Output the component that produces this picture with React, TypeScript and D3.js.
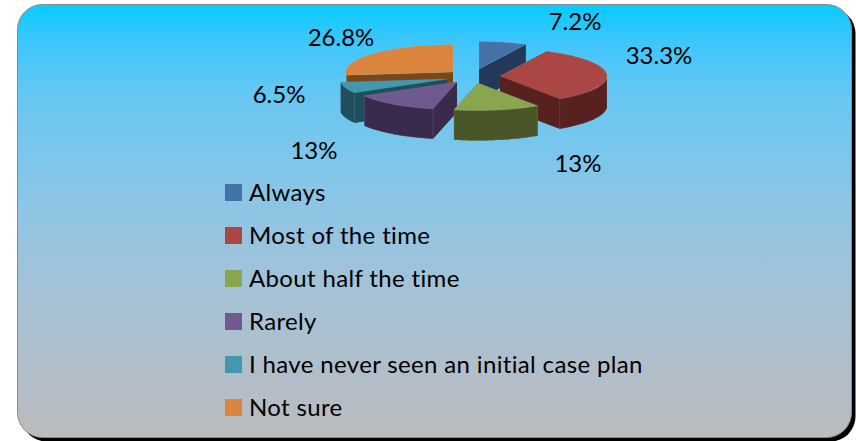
import React from "react";
import * as d3 from "d3";

const categories = ["Always", "Most of the time", "About half the time", "Rarely", "I have never seen an initial case plan", "Not sure"];
const values = [7.2, 33.3, 13, 13, 6.5, 26.8];
const valueLabels = ["7.2%", "33.3%", "13%", "13%", "6.5%", "26.8%"];
const topColors = ["#4572a7", "#aa4643", "#89a54e", "#71588f", "#4198af", "#db843d"];
const sideColors = ["#24395a", "#56211f", "#495628", "#3a2b4c", "#1f4f5c", "#7a4719"];

// layout
const W = 856, H = 441;
const RX = 107, RY = 27.5, DEPTH = 30;
const apexX = [479, 500, 478, 457, 447, 453];
const apexY = [69, 76, 83, 82, 79, 72];
const labelX = [575, 659, 578, 314, 279, 341];
const labelY = [20, 54, 162, 149, 93, 36];
const drawOrder = [0, 5, 4, 3, 1, 2];
const FONT = "Lato, Carlito, sans-serif";

const legendY = d3.scalePoint<number>().domain(d3.range(categories.length)).range([192, 407]);
const arcs = d3.pie<number>().sort(null)(values);

function pt(i: number, a: number, dy = 0): [number, number] {
  return [apexX[i] + RX * Math.sin(a), apexY[i] - RY * Math.cos(a) + dy];
}
function sector(i: number, a0: number, a1: number, dy: number): string {
  const p = d3.path();
  p.moveTo(apexX[i], apexY[i] + dy);
  const n = 48;
  for (let k = 0; k <= n; k++) {
    const [x, y] = pt(i, a0 + ((a1 - a0) * k) / n, dy);
    p.lineTo(x, y);
  }
  p.closePath();
  return p.toString();
}
function quad(i: number, a: number): string {
  const p = d3.path();
  const [x, y] = pt(i, a);
  p.moveTo(apexX[i], apexY[i]);
  p.lineTo(x, y);
  p.lineTo(x, y + DEPTH);
  p.lineTo(apexX[i], apexY[i] + DEPTH);
  p.closePath();
  return p.toString();
}
function wall(i: number, a0: number, a1: number): string {
  const from = Math.max(a0, Math.PI / 2), to = Math.min(a1, (3 * Math.PI) / 2);
  if (to <= from) return "";
  const p = d3.path();
  const n = 48;
  for (let k = 0; k <= n; k++) {
    const [x, y] = pt(i, from + ((to - from) * k) / n);
    if (k === 0) p.moveTo(x, y); else p.lineTo(x, y);
  }
  for (let k = n; k >= 0; k--) {
    const [x, y] = pt(i, from + ((to - from) * k) / n, DEPTH);
    p.lineTo(x, y);
  }
  p.closePath();
  return p.toString();
}

const edge = "rgba(170,205,235,0.3)";
const textStyle: React.CSSProperties = { fontVariantLigatures: "none" };

export default function App() {
  return (
    <svg width={W} height={H} style={{ position: "absolute", left: 0, top: 0, background: "#fff" }}>
      <defs>
        <linearGradient id="bg" x1="0" y1="0" x2="0" y2="1">
          <stop offset="0" stopColor="#08cbff" />
          <stop offset="0.09" stopColor="#40c6fb" />
          <stop offset="0.22" stopColor="#68c7f2" />
          <stop offset="0.45" stopColor="#8cc5e6" />
          <stop offset="0.68" stopColor="#a6c2d5" />
          <stop offset="0.91" stopColor="#b5bdc5" />
          <stop offset="1" stopColor="#bcbcbc" />
        </linearGradient>
      </defs>
      <rect x={21.5} y={8.5} width={834} height={433} rx={25} fill="#000" />
      <rect x={17.5} y={4.5} width={834} height={433} rx={25} fill="url(#bg)" stroke="#8a8a8a" strokeWidth={1} />
      {drawOrder.map((i) => {
        const a = arcs[i];
        return (
          <g key={i}>
            <path d={sector(i, a.startAngle, a.endAngle, DEPTH)} fill={sideColors[i]} />
            <path d={quad(i, a.startAngle)} fill={sideColors[i]} />
            <path d={quad(i, a.endAngle)} fill={sideColors[i]} />
            <path d={wall(i, a.startAngle, a.endAngle)} fill={sideColors[i]} stroke={edge} strokeWidth={0.5} />
            <path d={sector(i, a.startAngle, a.endAngle, 0)} fill={topColors[i]} stroke={edge} strokeWidth={0.5} />
          </g>
        );
      })}
      {valueLabels.map((t, i) => (
        <text key={i} x={labelX[i]} y={labelY[i]} textAnchor="middle" dominantBaseline="central" fontFamily={FONT} fontSize={24} fill="#000" style={textStyle}>{t}</text>
      ))}
      {categories.map((c, i) => (
        <g key={c}>
          <rect x={225} y={(legendY(i) as number) - 8} width={17} height={17} fill={topColors[i]} />
          <text x={249} y={(legendY(i) as number) + 9} fontFamily={FONT} fontSize={24} letterSpacing={0.35} fill="#000" style={textStyle}>{c}</text>
        </g>
      ))}
    </svg>
  );
}
